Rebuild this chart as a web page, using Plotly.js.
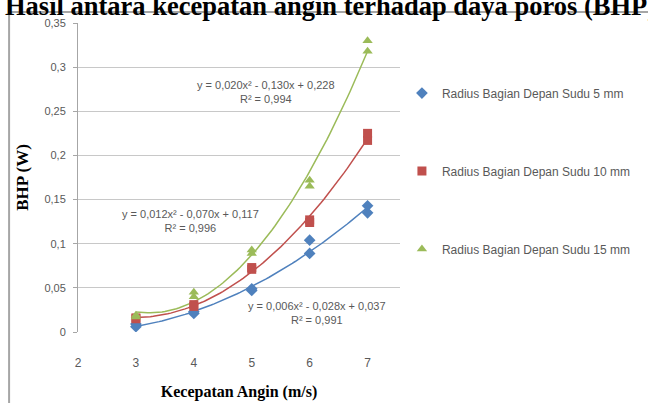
<!DOCTYPE html>
<html>
<head>
<meta charset="utf-8">
<script src="https://cdn.plot.ly/plotly-3.0.1.min.js"></script>
<style>html,body{margin:0;padding:0;background:#fff;}#chart{width:648px;height:403px;}</style>
</head>
<body>
<div id="chart"></div>
<script>
// Wind speed (m/s), two measurements per speed
const speed = [3, 3, 4, 4, 5, 5, 6, 6, 7, 7];
// BHP (W) per blade front radius
const bhp5mm  = [0.006, 0.009, 0.021, 0.023, 0.047, 0.049, 0.089, 0.104, 0.135, 0.143];
const bhp10mm = [0.015, 0.016, 0.029, 0.031, 0.071, 0.073, 0.124, 0.127, 0.217, 0.225];
const bhp15mm = [0.017, 0.019, 0.040, 0.045, 0.089, 0.093, 0.165, 0.172, 0.318, 0.330];

const seriesNames = ["Radius Bagian Depan Sudu 5 mm", "Radius Bagian Depan Sudu 10 mm", "Radius Bagian Depan Sudu 15 mm"];
const equations = ["y = 0,006x\u00b2 - 0,028x + 0,037<br>R\u00b2 = 0,991",
                   "y = 0,012x\u00b2 - 0,070x + 0,117<br>R\u00b2 = 0,996",
                   "y = 0,020x\u00b2 - 0,130x + 0,228<br>R\u00b2 = 0,994"];
const yTickVals = [0, 0.05, 0.1, 0.15, 0.2, 0.25, 0.3, 0.35];
const yTickText = ["0", "0,05", "0,1", "0,15", "0,2", "0,25", "0,3", "0,35"];
const xTickVals = [2, 3, 4, 5, 6, 7];

const colors = ["#4F81BD", "#C0504D", "#9BBB59"];
const symbols = ["diamond", "square", "triangle-up"];
const allY = [bhp5mm, bhp10mm, bhp15mm];

// least-squares quadratic trendline (like Excel polynomial trendline order 2)
function polyFit2(xs, ys) {
  let s = [0,0,0,0,0], t = [0,0,0];
  for (let i = 0; i < xs.length; i++) {
    let p = 1;
    for (let k = 0; k < 5; k++) { s[k] += p; if (k < 3) t[k] += p * ys[i]; p *= xs[i]; }
  }
  const A = [[s[0], s[1], s[2], t[0]], [s[1], s[2], s[3], t[1]], [s[2], s[3], s[4], t[2]]];
  for (let c = 0; c < 3; c++) {
    for (let r = c + 1; r < 3; r++) {
      const f = A[r][c] / A[c][c];
      for (let k = c; k < 4; k++) A[r][k] -= f * A[c][k];
    }
  }
  const sol = [0,0,0];
  for (let r = 2; r >= 0; r--) {
    let v = A[r][3];
    for (let k = r + 1; k < 3; k++) v -= A[r][k] * sol[k];
    sol[r] = v / A[r][r];
  }
  return sol; // c0, c1, c2
}

const xMin = Math.min(...speed), xMax = Math.max(...speed);
const traces = [];
allY.forEach((ys, i) => {
  const c = polyFit2(speed, ys);
  const fx = [], fy = [];
  for (let j = 0; j <= 80; j++) {
    const x = xMin + (xMax - xMin) * j / 80;
    fx.push(x); fy.push(c[0] + c[1] * x + c[2] * x * x);
  }
  traces.push({x: fx, y: fy, mode: "lines", line: {color: colors[i], width: 1.5},
               showlegend: false, hoverinfo: "skip", legendgroup: "g" + i});
});
allY.forEach((ys, i) => {
  traces.push({x: speed, y: ys, mode: "markers", name: seriesNames[i], legendgroup: "g" + i,
               marker: {symbol: symbols[i], color: colors[i], size: 9, line: {width: 0}}});
});

const annFont = {family: "Liberation Sans, Arial", size: 11, color: "#595959"};
const layout = {
  width: 648, height: 403,
  paper_bgcolor: "#ffffff", plot_bgcolor: "#ffffff",
  margin: {l: 78, r: 243, t: 23, b: 71},
  showlegend: true,
  legend: {x: 1.006, y: 0.82, xanchor: "left", yanchor: "top", traceorder: "grouped", tracegroupgap: 59,
           font: {family: "Liberation Sans, Arial", size: 12, color: "#595959"},
           itemwidth: 30, bgcolor: "rgba(0,0,0,0)"},
  xaxis: {range: [2, 7.56], tickvals: xTickVals, ticktext: xTickVals.map(String), showgrid: false,
          zeroline: false, showline: false, ticks: "", ticklabelstandoff: 22,
          tickfont: {family: "Liberation Sans, Arial", size: 12, color: "#595959"},
          title: {text: "Kecepatan Angin (m/s)", standoff: 16,
                  font: {family: "Liberation Serif, Times New Roman, serif", size: 16, color: "#000000", weight: "bold"}}},
  yaxis: {range: [0, 0.35], tickvals: yTickVals, ticktext: yTickText, showgrid: true, gridcolor: "#c8c8c8",
          gridwidth: 1, zeroline: false, showline: true, linecolor: "#a6a6a6", linewidth: 1,
          ticks: "outside", ticklen: 4, tickcolor: "#a6a6a6", ticklabelstandoff: 5,
          tickfont: {family: "Liberation Sans, Arial", size: 11, color: "#595959"},
          title: {text: "BHP (W)", standoff: 11,
                  font: {family: "Liberation Serif, Times New Roman, serif", size: 17, color: "#000000", weight: "bold"}}},
  annotations: [
    {xref: "x", yref: "y", x: 6.12, y: 0.021, text: equations[0], showarrow: false, font: annFont, align: "center"},
    {xref: "x", yref: "y", x: 3.94, y: 0.126, text: equations[1], showarrow: false, font: annFont, align: "center"},
    {xref: "x", yref: "y", x: 5.25, y: 0.272, text: equations[2], showarrow: false, font: annFont, align: "center"},
    {xref: "paper", yref: "paper", x: -0.232, y: 1.055, xanchor: "left", yanchor: "middle", showarrow: false,
     text: "<b>Hasil antara kecepatan angin terhadap daya poros (BHP)</b>",
     font: {family: "Liberation Serif, Times New Roman, serif", size: 26.5, color: "#000000"}}
  ],
  shapes: [
    {type: "rect", xref: "paper", yref: "paper", x0: -0.214, x1: 2.2, y0: -0.4, y1: 1.036,
     line: {color: "#a6a6a6", width: 2}, fillcolor: "rgba(0,0,0,0)", layer: "below"}
  ]
};

Plotly.newPlot("chart", traces, layout, {displayModeBar: false, staticPlot: true});
</script>
</body>
</html>
